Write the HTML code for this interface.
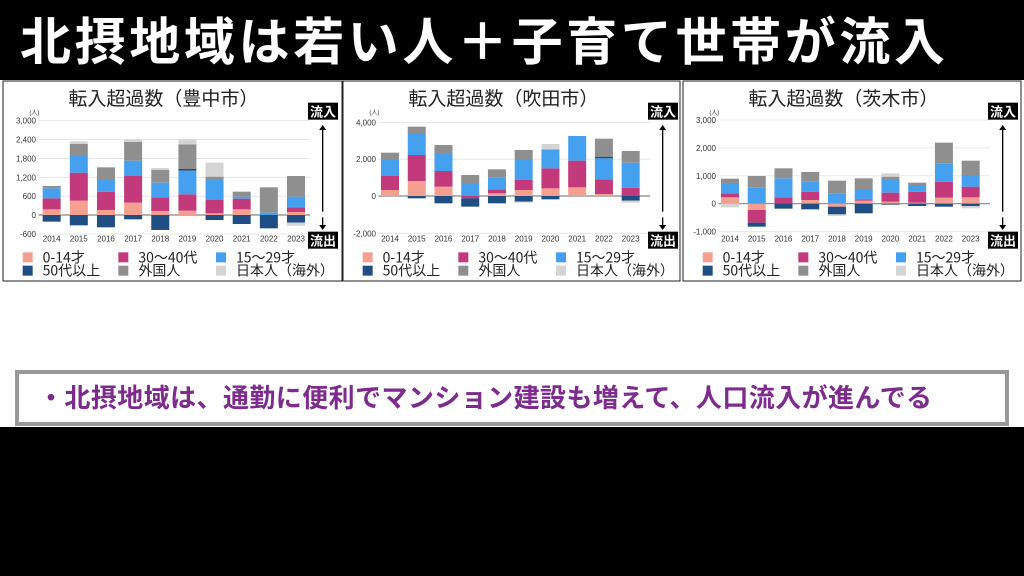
<!DOCTYPE html>
<html><head><meta charset="utf-8"><style>
body{margin:0;width:1024px;height:576px;background:#000;overflow:hidden;font-family:"Liberation Sans","Noto Sans CJK JP",sans-serif}
svg{position:absolute;left:0;top:0}
</style></head><body>
<svg id="s" width="1024" height="576" xmlns="http://www.w3.org/2000/svg" font-family="Liberation Sans, Noto Sans CJK JP, sans-serif">
<rect x="0" y="0" width="1024" height="576" fill="#000"/>
<text x="20" y="60" fill="#fff" font-size="51" font-weight="bold" textLength="925" font-family="Noto Sans CJK JP, sans-serif">北摂地域は若い人＋子育て世帯が流入</text>
<rect x="0" y="80" width="1024" height="347" fill="#fff"/>
<rect x="17" y="372" width="990" height="52" fill="#fff" stroke="#999" stroke-width="4"/>
<text x="38" y="407" fill="#7e2b8e" font-size="26" font-weight="bold" textLength="894" font-family="Noto Sans CJK JP, sans-serif">・北摂地域は、通勤に便利でマンション建設も増えて、人口流入が進んでる</text>
<g id="g"></g>
</svg>
<script>
const C={s:"#f4a090",m:"#c33a7c",b:"#45a1f0",n:"#1f4e84",g:"#8f8f8f",l:"#d4d4d4"};
const charts=[
{ox:0,title:"転入超過数（豊中市）",px:[3,342],ticks:[["3,000",122],["2,400",178.7],["1,800",235.3],["1,200",292],["600",348.5],["0",405],["-600",462]],z:405,c0:155,c9:888,
pos:[[["s",388],["m",355],["b",325],["g",318]],[["s",362],["m",278],["b",228],["g",192],["l",184]],[["s",390],["m",335],["b",300],["g",262]],[["s",368],["m",288],["b",242],["g",186],["l",178]],[["s",393],["m",352],["b",308],["g",270],["l",264]],[["s",392],["m",343],["b",272],["n",267],["g",193],["l",178]],[["s",400],["m",360],["b",300],["g",290],["l",248]],[["s",388],["m",356],["b",350],["g",335]],[["b",398],["g",322]],[["s",396],["m",382],["b",350],["g",288]]],
neg:[[["n",425]],[["n",436]],[["n",442]],[["n",418]],[["n",450]],[],[["n",420]],[["n",432]],[["n",445]],[["n",428],["l",437]]]},
{ox:340,title:"転入超過数（吹田市）",px:[343,680],ticks:[["4,000",127],["2,000",237.5],["0",348],["-2,000",460]],z:348,c0:150,c9:872,
pos:[[["s",330],["m",288],["b",240],["g",218]],[["s",303],["m",225],["b",162],["g",140]],[["s",320],["m",273],["b",222],["g",195]],[["b",312],["g",285]],[["s",340],["m",328],["b",292],["g",268]],[["s",330],["m",300],["b",240],["g",210]],[["s",325],["m",265],["b",208],["l",192]],[["s",322],["m",242],["b",168]],[["s",342],["m",298],["b",235],["n",230],["g",176]],[["m",323],["b",248],["g",213]]],
neg:[[],[["n",355]],[["n",370]],[["m",355],["n",380]],[["n",370]],[["n",365],["l",368]],[["n",358]],[],[],[["n",362],["l",368]]]},
{ox:680,title:"転入超過数（茨木市）",px:[683,1021],ticks:[["3,000",120],["2,000",203.7],["1,000",287.3],["0",371],["-1,000",455]],z:371,c0:150,c9:872,
pos:[[["s",352],["m",340],["b",312],["g",296]],[["b",323],["g",288]],[["m",352],["b",295],["g",265]],[["s",360],["m",335],["b",305],["g",276]],[["b",340],["g",302]],[["s",362],["m",358],["b",330],["g",295]],[["s",365],["m",338],["b",300],["g",290],["l",280]],[["s",368],["m",335],["b",318],["g",308]],[["s",353],["m",305],["b",250],["g",188]],[["s",352],["m",320],["b",285],["g",242]]],
neg:[[["l",382]],[["s",390],["m",428],["n",440]],[["n",386]],[["n",388]],[["s",380],["n",403],["l",408]],[["n",400]],[["n",374]],[["n",378]],[["n",380]],[["n",378],["l",385]]]}
];
let h="";
const Y=v=>80+v/3;
for(const c of charts){
 const X=v=>c.ox+v/3;
 h+=`<rect x="${c.px[0]}" y="81" width="${c.px[1]-c.px[0]}" height="200" fill="#fff" stroke="#222" stroke-width="1"/>`;
 h+=`<text x="${X(490)}" y="${Y(75)}" font-size="19" text-anchor="middle" fill="#222" font-family="Noto Sans CJK JP, sans-serif">${c.title}</text>`;
 h+=`<text x="${X(88)}" y="${Y(104)}" font-size="6" fill="#333">(人)</text>`;
 for(const [t,zy] of c.ticks){
  h+=`<line x1="${X(115)}" x2="${X(930)}" y1="${Y(zy)}" y2="${Y(zy)}" stroke="${zy==c.z?'#888':'#e2e2e2'}" stroke-width="${zy==c.z?1.2:0.8}"/>`;
  h+=`<text x="${X(108)}" y="${Y(zy)+3}" font-size="8" text-anchor="end" fill="#333">${t}</text>`;
 }
 const w=18;
 for(let i=0;i<10;i++){
  const cx=X(c.c0+(c.c9-c.c0)*i/9);
  let prev=c.z;
  for(const [k,t] of c.pos[i]){h+=`<rect x="${cx-w/2}" y="${Y(t)}" width="${w}" height="${(prev-t)/3}" fill="${C[k]}"/>`;prev=t;}
  prev=c.z;
  for(const [k,b] of c.neg[i]){h+=`<rect x="${cx-w/2}" y="${Y(prev)}" width="${w}" height="${(b-prev)/3}" fill="${C[k]}"/>`;prev=b;}
  h+=`<text x="${cx}" y="${Y(485)}" font-size="8" text-anchor="middle" fill="#333">${2014+i}</text>`;
 }
 const bx=X(930);
 h+=`<rect x="${bx-2}" y="${Y(68)}" width="30" height="17" fill="#000"/><text x="${bx+13}" y="${Y(68)+14}" font-size="13" font-weight="bold" fill="#fff" text-anchor="middle" font-family="Noto Sans CJK JP, sans-serif">流入</text>`;
 h+=`<rect x="${bx-2}" y="${Y(455)}" width="30" height="17" fill="#000"/><text x="${bx+13}" y="${Y(455)+14}" font-size="13" font-weight="bold" fill="#fff" text-anchor="middle" font-family="Noto Sans CJK JP, sans-serif">流出</text>`;
 const ax=X(968);
 h+=`<line x1="${ax}" x2="${ax}" y1="${Y(145)}" y2="${Y(395)}" stroke="#000" stroke-width="1.3"/><path d="M${ax-3.5} ${Y(150)}L${ax} ${Y(135)}L${ax+3.5} ${Y(150)}Z"/>`;
 h+=`<line x1="${ax}" x2="${ax}" y1="${Y(412)}" y2="${Y(440)}" stroke="#000" stroke-width="1.3"/><path d="M${ax-3.5} ${Y(435)}L${ax} ${Y(450)}L${ax+3.5} ${Y(435)}Z"/>`;
 const L=[["s","0-14才",68,532],["m","30〜40代",355,532],["b","15〜29才",648,532],["n","50代以上",68,572],["g","外国人",355,572],["l","日本人（海外）",648,572]];
 for(const [k,t,lx,ly] of L){
  h+=`<rect x="${X(lx)}" y="${Y(ly)-5}" width="10" height="10" fill="${C[k]}"/><text x="${X(lx)+20}" y="${Y(ly)+5}" font-size="14" fill="#222" font-family="Noto Sans CJK JP, sans-serif">${t}</text>`;
 }
}
document.getElementById("g").innerHTML=h;
</script>
</body></html>
